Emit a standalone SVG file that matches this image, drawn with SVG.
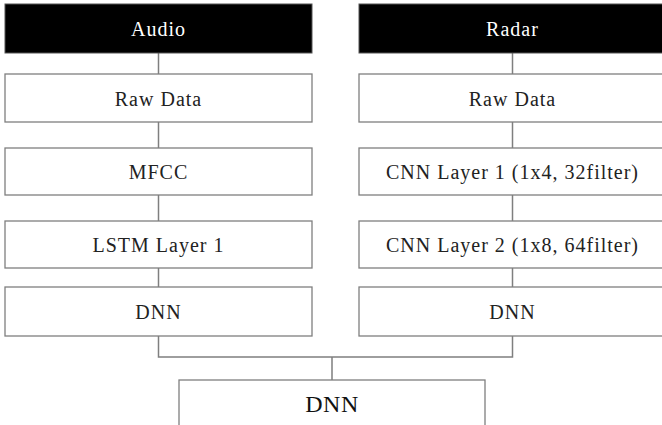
<svg xmlns="http://www.w3.org/2000/svg" width="662" height="425" viewBox="0 0 662 425">
<style>
.box{fill:#fff;stroke:#7f7f7f;stroke-width:1.3}
.hdr{fill:#000;stroke:#555;stroke-width:1}
.t{font-family:"Liberation Serif","Times New Roman",serif;font-size:20px;letter-spacing:1px;fill:#222;text-anchor:middle}
.w{fill:#fff}
.big{font-size:24px;letter-spacing:0.5px;fill:#111}
.c{stroke:#7f7f7f;stroke-width:1.5;fill:none}
</style>
<rect width="662" height="425" fill="#fff"/>
<g id="connectors">
<path class="c" d="M158.5 53V74M158.5 122V148M158.5 195V221M158.5 268V287M158.5 336V357H512.5V336M512.5 53V74M512.5 122V148M512.5 195V221M512.5 268V287M332 357V380"/>
</g>
<g id="audio"><rect class="hdr" x="5" y="4" width="307" height="49"/><text class="t w" x="158.5" y="36">Audio</text></g>
<g id="audio-raw"><rect class="box" x="5" y="74" width="307" height="48"/><text class="t" x="158.5" y="106">Raw Data</text></g>
<g id="mfcc"><rect class="box" x="5" y="148" width="307" height="47"/><text class="t" x="158.5" y="179">MFCC</text></g>
<g id="lstm"><rect class="box" x="5" y="221" width="307" height="47"/><text class="t" x="158.5" y="252">LSTM Layer 1</text></g>
<g id="audio-dnn"><rect class="box" x="5" y="287" width="307" height="49"/><text class="t" x="158.5" y="319">DNN</text></g>
<g id="radar"><rect class="hdr" x="359" y="4" width="308" height="49"/><text class="t w" x="512.5" y="36">Radar</text></g>
<g id="radar-raw"><rect class="box" x="359" y="74" width="308" height="48"/><text class="t" x="512.5" y="106">Raw Data</text></g>
<g id="cnn1"><rect class="box" x="359" y="148" width="308" height="47"/><text class="t" x="512.5" y="179">CNN Layer 1 (1x4, 32filter)</text></g>
<g id="cnn2"><rect class="box" x="359" y="221" width="308" height="47"/><text class="t" x="512.5" y="252">CNN Layer 2 (1x8, 64filter)</text></g>
<g id="radar-dnn"><rect class="box" x="359" y="287" width="308" height="49"/><text class="t" x="512.5" y="319">DNN</text></g>
<g id="fusion-dnn"><rect class="box" x="179" y="380" width="306" height="60"/><text class="t big" x="332" y="412">DNN</text></g>
</svg>
